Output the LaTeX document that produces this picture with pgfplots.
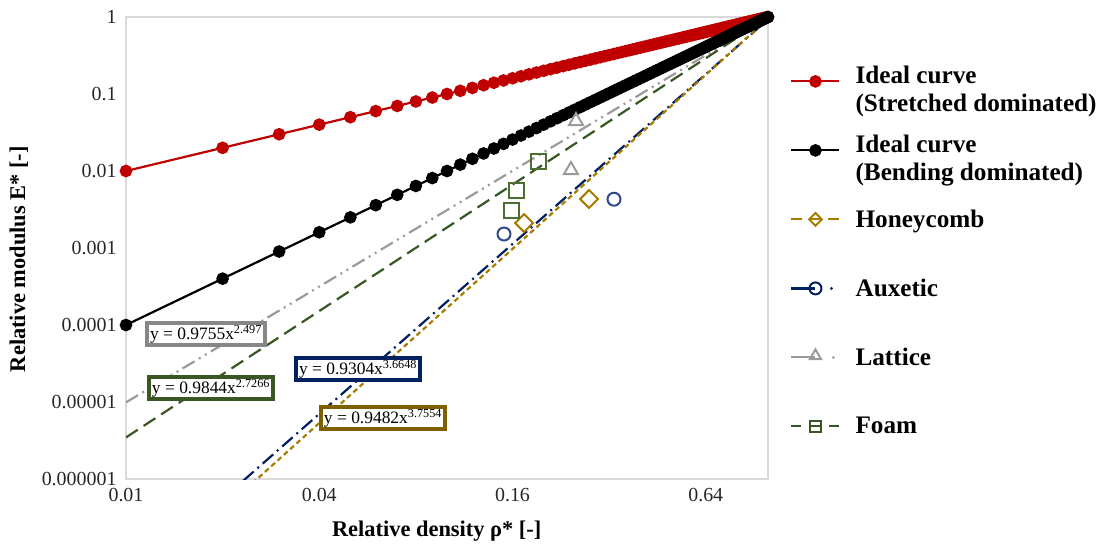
\documentclass[border=0pt]{standalone}
\usepackage{fontspec}
\setmainfont{Liberation Serif}
\usepackage{pgfplots}
\usepackage{pgfplotstable}
\pgfplotsset{compat=1.18}
\definecolor{cred}{RGB}{192,0,0}
\definecolor{cgold}{RGB}{166,124,0}
\definecolor{cgoldbox}{RGB}{127,96,0}
\definecolor{cnavy}{RGB}{0,32,96}
\definecolor{cnavym}{RGB}{47,72,140}
\definecolor{cgreen}{RGB}{56,87,35}
\definecolor{cgreenm}{RGB}{75,110,50}
\definecolor{cgray}{RGB}{155,155,155}
\definecolor{cgraybox}{RGB}{135,135,135}
\definecolor{cframe}{RGB}{217,217,217}

\pgfplotstableread{
x y1 y2
0.01 0.01 0.0001
0.02 0.02 0.0004
0.03 0.03 0.0009
0.04 0.04 0.0016
0.05 0.05 0.0025
0.06 0.06 0.0036
0.07 0.07 0.0049
0.08 0.08 0.0064
0.09 0.09 0.0081
0.10 0.10 0.0100
0.11 0.11 0.0121
0.12 0.12 0.0144
0.13 0.13 0.0169
0.14 0.14 0.0196
0.15 0.15 0.0225
0.16 0.16 0.0256
0.17 0.17 0.0289
0.18 0.18 0.0324
0.19 0.19 0.0361
0.20 0.20 0.0400
0.21 0.21 0.0441
0.22 0.22 0.0484
0.23 0.23 0.0529
0.24 0.24 0.0576
0.25 0.25 0.0625
0.26 0.26 0.0676
0.27 0.27 0.0729
0.28 0.28 0.0784
0.29 0.29 0.0841
0.30 0.30 0.0900
0.31 0.31 0.0961
0.32 0.32 0.1024
0.33 0.33 0.1089
0.34 0.34 0.1156
0.35 0.35 0.1225
0.36 0.36 0.1296
0.37 0.37 0.1369
0.38 0.38 0.1444
0.39 0.39 0.1521
0.40 0.40 0.1600
0.41 0.41 0.1681
0.42 0.42 0.1764
0.43 0.43 0.1849
0.44 0.44 0.1936
0.45 0.45 0.2025
0.46 0.46 0.2116
0.47 0.47 0.2209
0.48 0.48 0.2304
0.49 0.49 0.2401
0.50 0.50 0.2500
0.51 0.51 0.2601
0.52 0.52 0.2704
0.53 0.53 0.2809
0.54 0.54 0.2916
0.55 0.55 0.3025
0.56 0.56 0.3136
0.57 0.57 0.3249
0.58 0.58 0.3364
0.59 0.59 0.3481
0.60 0.60 0.3600
0.61 0.61 0.3721
0.62 0.62 0.3844
0.63 0.63 0.3969
0.64 0.64 0.4096
0.65 0.65 0.4225
0.66 0.66 0.4356
0.67 0.67 0.4489
0.68 0.68 0.4624
0.69 0.69 0.4761
0.70 0.70 0.4900
0.71 0.71 0.5041
0.72 0.72 0.5184
0.73 0.73 0.5329
0.74 0.74 0.5476
0.75 0.75 0.5625
0.76 0.76 0.5776
0.77 0.77 0.5929
0.78 0.78 0.6084
0.79 0.79 0.6241
0.80 0.80 0.6400
0.81 0.81 0.6561
0.82 0.82 0.6724
0.83 0.83 0.6889
0.84 0.84 0.7056
0.85 0.85 0.7225
0.86 0.86 0.7396
0.87 0.87 0.7569
0.88 0.88 0.7744
0.89 0.89 0.7921
0.90 0.90 0.8100
0.91 0.91 0.8281
0.92 0.92 0.8464
0.93 0.93 0.8649
0.94 0.94 0.8836
0.95 0.95 0.9025
0.96 0.96 0.9216
0.97 0.97 0.9409
0.98 0.98 0.9604
0.99 0.99 0.9801
1.00 1.00 1.0000
}\ideal

\pgfplotstableread{
x y
0.01 9.891e-6
1 0.9755
}\latfit
\pgfplotstableread{
x y
0.01 3.467e-6
1 0.9844
}\foamfit
\pgfplotstableread{
x y
0.01 4.356e-8
1 0.9304
}\auxfit
\pgfplotstableread{
x y
0.01 2.925e-8
1 0.9482
}\honfit

\begin{document}
\begin{tikzpicture}
\begin{axis}[
  scale only axis, width=642bp, height=462bp,
  xmode=log, ymode=log,
  xmin=0.01, xmax=1, ymin=1e-6, ymax=1,
  xtick={0.01,0.04,0.16,0.64}, xticklabels={0.01,0.04,0.16,0.64},
  ytick={1e-6,1e-5,1e-4,1e-3,1e-2,1e-1,1},
  yticklabels={0.000001,0.00001,0.0001,0.001,0.01,0.1,1},
  major tick length=0pt, minor tick length=0pt,
  axis line style={draw=cframe, line width=1.2bp},
  tick label style={font=\fontsize{20}{22}\selectfont, text=black!85},
  xticklabel style={yshift=-6bp},
  yticklabel style={xshift=-6bp},
  xlabel={Relative density ρ* [-]},
  ylabel={Relative modulus E* [-]},
  label style={font=\bfseries\fontsize{22.5}{26}\selectfont},
  xlabel style={at={(axis description cs:0.484,-0.113)}, anchor=center},
  ylabel style={at={(axis description cs:-0.167,0.476)}, anchor=center},
  legend style={at={(1.0343,0.926)}, anchor=north west, draw=none, fill=none,
    inner sep=0pt, row sep=9bp, column sep=15bp,
    font=\bfseries\fontsize{25.3}{28}\selectfont,
    nodes={inner sep=0pt, minimum height=60bp}},
  legend cell align=left,
  legend image code/.code={\draw[mark repeat=2,mark phase=2,#1] plot coordinates {(0bp,0bp) (24bp,0bp) (48bp,0bp)};},
]
% ideal curves
\addplot[cred, line width=2.2bp, mark=*, mark size=5.2bp, mark options={solid}] table[x=x,y=y1]{\ideal};
\addlegendentry{\begin{tabular}{@{}l@{}}Ideal curve\\(Stretched dominated)\end{tabular}}
\addplot[black, line width=2.2bp, mark=*, mark size=5.2bp, mark options={solid}] table[x=x,y=y2]{\ideal};
\addlegendentry{\begin{tabular}{@{}l@{}}Ideal curve\\(Bending dominated)\end{tabular}}
% trendlines
\addplot[forget plot, cgray, line width=2.2bp, dash pattern=on 14bp off 5bp on 2bp off 5bp on 2bp off 5bp] table[x=x,y=y]{\latfit};
\addplot[forget plot, cgreen, line width=2.2bp, dash pattern=on 14bp off 7bp] table[x=x,y=y]{\foamfit};
\addplot[forget plot, cnavy, line width=2.2bp, dash pattern=on 14bp off 5bp on 2bp off 5bp] table[x=x,y=y]{\auxfit};
\addplot[forget plot, cgold, line width=2.2bp, dash pattern=on 5bp off 3.5bp] table[x=x,y=y]{\honfit};
% measured data
\addplot[cgold, only marks, mark=square, mark size=6.3bp, mark options={rotate=45, line width=2bp, solid},
  legend image code/.code={\draw[cgold, line width=2bp] (0bp,0bp)--(11bp,0bp) (18bp,0bp)--(30bp,0bp) (37bp,0bp)--(48bp,0bp);
    \draw[cgold, mark=square, mark size=4.5bp, mark options={rotate=45, line width=2bp}] plot coordinates {(24bp,0bp)};}]
  coordinates {(0.1738,0.00211) (0.277,0.00433)};
\addlegendentry{Honeycomb}
\addplot[cnavym, only marks, mark=o, mark size=6.5bp, mark options={line width=2bp, solid},
  legend image code/.code={\draw[cnavy, line width=2.5bp] (0bp,0bp)--(24bp,0bp);
    \draw[cnavy, mark=o, mark size=6bp, mark options={line width=2bp}] plot coordinates {(24bp,0bp)};
    \fill[cnavy] (40bp,0bp) circle (1.3bp);}]
  coordinates {(0.1505,0.00152) (0.3313,0.0043)};
\addlegendentry{Auxetic}
\addplot[cgray, only marks, mark=triangle, mark size=8bp, mark options={line width=2bp, solid},
  legend image code/.code={\draw[cgray, line width=2bp] (0bp,0bp)--(24bp,0bp);
    \draw[cgray, mark=triangle, mark size=6.5bp, mark options={line width=2bp}] plot coordinates {(24bp,1.5bp)};
    \fill[cgray] (42bp,0bp) circle (1.1bp);}]
  coordinates {(0.2523,0.0446) (0.2433,0.0103)};
\addlegendentry{Lattice}
\addplot[cgreenm, only marks, mark=square, mark size=7.5bp, mark options={line width=2bp, solid},
  legend image code/.code={\draw[cgreen, line width=2bp] (0bp,0bp)--(10bp,0bp) (18bp,0bp)--(30bp,0bp) (38bp,0bp)--(48bp,0bp);
    \draw[cgreen, mark=square, mark size=5.5bp, mark options={line width=2bp}] plot coordinates {(24bp,0bp)};}]
  coordinates {(0.1935,0.0131) (0.1652,0.0055) (0.1583,0.00303)};
\addlegendentry{Foam}
% equation boxes
\tikzset{eqbox/.style={line width=3.5bp, fill=white, inner xsep=3bp, inner ysep=2bp, font=\fontsize{17.5}{19}\selectfont}}
\node[eqbox, draw=cgraybox] at (rel axis cs:0.1246,0.3139) {y = 0.9755x\textsuperscript{2.497}};
\node[eqbox, draw=cgreen] at (rel axis cs:0.1324,0.197) {y = 0.9844x\textsuperscript{2.7266}};
\node[eqbox, draw=cnavy] at (rel axis cs:0.3614,0.238) {y = 0.9304x\textsuperscript{3.6648}};
\node[eqbox, draw=cgoldbox] at (rel axis cs:0.4003,0.132) {y = 0.9482x\textsuperscript{3.7554}};
\end{axis}
\path (-126bp,-68bp) rectangle (976bp,479bp);
\end{tikzpicture}
\end{document}
